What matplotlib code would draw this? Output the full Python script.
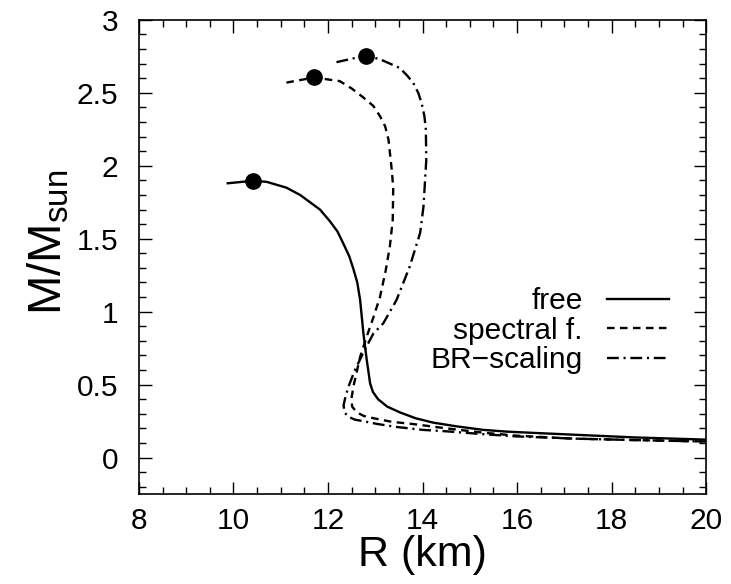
import matplotlib
matplotlib.use("Agg")
import matplotlib.pyplot as plt
from matplotlib.ticker import MultipleLocator

plt.rcParams['font.family'] = ['Liberation Sans', 'DejaVu Sans']
plt.rcParams['mathtext.fontset'] = 'custom'
plt.rcParams['mathtext.rm'] = 'Liberation Sans'
plt.rcParams['mathtext.it'] = 'Liberation Sans'

# mass-radius curves (R in km, M in solar masses)
free_R = [9.88, 10.41, 10.70, 11.12, 11.41, 11.62, 11.83, 12.04, 12.20, 12.32, 12.45, 12.54,
          12.62, 12.68, 12.75, 12.82, 12.86, 12.89, 12.95, 13.06, 13.25, 13.52, 13.85,
          14.22, 14.70, 15.28, 15.78, 16.5, 17.19, 18.5, 20.0]
free_M = [1.88, 1.897, 1.89, 1.85, 1.80, 1.75, 1.70, 1.62, 1.55, 1.47, 1.38, 1.29,
          1.20, 1.08, 0.85, 0.67, 0.58, 0.51, 0.45, 0.40, 0.35, 0.31, 0.27,
          0.24, 0.215, 0.19, 0.178, 0.167, 0.157, 0.138, 0.123]

spec_R = [11.12, 11.71, 12.25, 12.50, 12.74, 12.96, 13.10, 13.21, 13.28, 13.35, 13.38,
          13.37, 13.31, 13.22, 13.10, 12.96, 12.82, 12.68, 12.54, 12.50, 12.51, 12.61,
          12.76, 12.96, 13.35, 13.80, 14.51, 15.3, 16.0, 17.19, 18.5, 20.0]
spec_M = [2.57, 2.605, 2.58, 2.53, 2.47, 2.41, 2.34, 2.27, 2.18, 1.97, 1.85,
          1.63, 1.45, 1.28, 1.10, 0.96, 0.83, 0.69, 0.49, 0.41, 0.35, 0.31,
          0.285, 0.27, 0.245, 0.23, 0.20, 0.17, 0.15, 0.13, 0.12, 0.11]

br_R = [12.18, 12.80, 13.10, 13.52, 13.67, 13.80, 13.91, 13.98, 14.04, 14.07, 14.08, 14.05,
        14.02, 13.95, 13.73, 13.45, 13.17, 12.96, 12.78, 12.57, 12.45, 12.38, 12.33,
        12.35, 12.43, 12.57, 12.74, 13.05, 13.45, 14.0, 14.51, 15.3, 16.0, 17.2, 18.5, 20.0]
br_M = [2.71, 2.755, 2.73, 2.67, 2.62, 2.57, 2.50, 2.43, 2.34, 2.25, 2.04, 1.88,
        1.72, 1.54, 1.31, 1.08, 0.92, 0.85, 0.74, 0.60, 0.50, 0.43, 0.36,
        0.31, 0.28, 0.26, 0.25, 0.23, 0.21, 0.19, 0.18, 0.16, 0.145, 0.13, 0.12, 0.11]

# maximum-mass points
max_R = [10.41, 11.71, 12.80]
max_M = [1.897, 2.605, 2.755]

fig = plt.figure(figsize=(7.31, 5.84), dpi=100)
ax = fig.add_axes([0.190, 0.154, 0.776, 0.812])

ax.plot(free_R, free_M, color='black', lw=1.7, label='free')
ax.plot(spec_R, spec_M, color='black', lw=1.7, dashes=[3.2, 2.3], label='spectral f.')
ax.plot(br_R, br_M, color='black', lw=1.7, dashes=[5.0, 2.0, 0.9, 2.0], label='BR\u2212scaling')
ax.plot(max_R, max_M, 'o', color='black', ms=11, zorder=5)

ax.set_xlim(8, 20)
ax.set_ylim(-0.25, 3)
ax.xaxis.set_major_locator(MultipleLocator(2))
ax.xaxis.set_minor_locator(MultipleLocator(0.5))
ax.yaxis.set_minor_locator(MultipleLocator(0.1))
ax.set_yticks([0, 0.5, 1, 1.5, 2, 2.5, 3])
ax.set_yticklabels(['0', '0.5', '1', '1.5', '2', '2.5', '3'])
ax.tick_params(which='both', direction='in', top=True, right=True, labelsize=21.5, width=1)
ax.tick_params(which='major', length=9)
ax.tick_params(which='minor', length=5)
ax.tick_params(axis='x', which='major', pad=9)
ax.tick_params(axis='y', which='major', pad=15)
for s in ax.spines.values():
    s.set_linewidth(1.2)

ax.set_xlabel('R (km)', fontsize=31, labelpad=0)
ax.set_ylabel(r'M/M$_{\rm sun}$', fontsize=34)
ax.yaxis.set_label_coords(-0.118, 0.53)

ax.legend(loc='center right', bbox_to_anchor=(0.935, 0.344), frameon=False,
          markerfirst=False, fontsize=21.5, handlelength=2.1, handletextpad=0.8,
          labelspacing=0.05, borderpad=0, borderaxespad=0)

fig.savefig('out.png', dpi=100)
